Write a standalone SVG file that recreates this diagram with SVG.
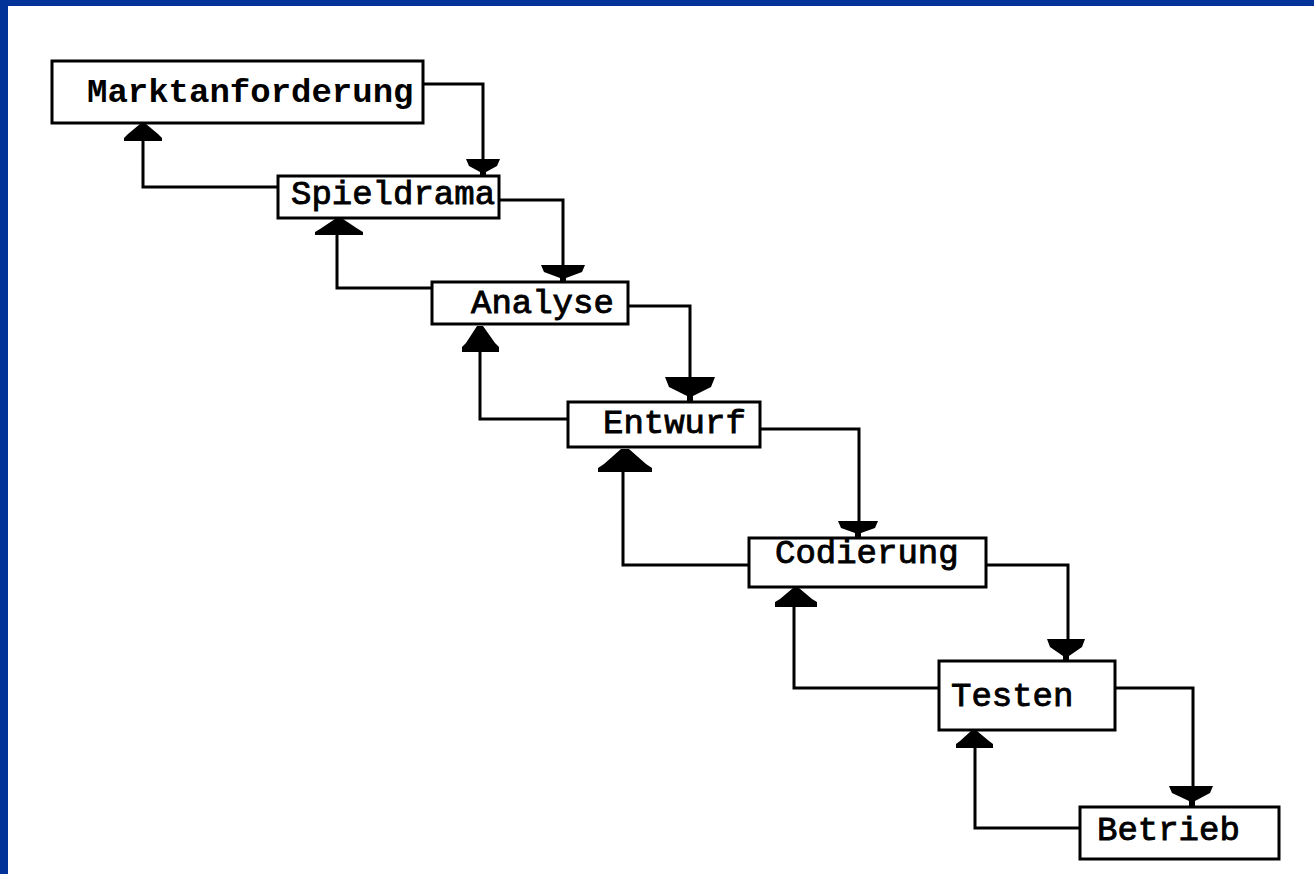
<svg xmlns="http://www.w3.org/2000/svg" width="1314" height="874" viewBox="0 0 1314 874">
<style>
.box{fill:#fff;stroke:#000;stroke-width:3}
.lbl{font-family:"Liberation Mono","DejaVu Sans Mono",monospace;font-size:34px;font-weight:normal;fill:#000;stroke:#000;stroke-width:0.9}
.lbl.b{font-weight:bold;stroke-width:0}
.con{fill:none;stroke:#000;stroke-width:3}
.ah{fill:#000;stroke:none}
.frame{fill:#013398}
</style>
<rect x="0" y="0" width="1314" height="874" fill="#fff"/>
<rect class="frame" x="0" y="0" width="1314" height="6"/>
<rect class="frame" x="0" y="0" width="8" height="874"/>

<g id="connectors">
  <path class="con" d="M423,84 H483 V162"/>
  <path class="con" d="M278,187 H143 V138"/>
  <path class="con" d="M499,200 H563 V268"/>
  <path class="con" d="M432,288 H337 V232"/>
  <path class="con" d="M628,306 H690 V380"/>
  <path class="con" d="M568,419 H480 V348"/>
  <path class="con" d="M760,429 H859 V524"/>
  <path class="con" d="M749,565 H623 V468"/>
  <path class="con" d="M986,565 H1068 V642"/>
  <path class="con" d="M939,688 H794 V604"/>
  <path class="con" d="M1115,688 H1193 V789"/>
  <path class="con" d="M1080,828 H975 V745"/>
  <!-- down arrowheads -->
  <polygon class="ah" points="466,159 500,159 497,166 486,172 486,176 480,176 480,172 469,166"/>
  <polygon class="ah" points="541,265 585,265 582,272 566,278 566,282 560,282 560,278 544,272"/>
  <polygon class="ah" points="665,377 715,377 711,387 693,396 693,402 687,402 687,396 669,387"/>
  <polygon class="ah" points="838,521 878,521 875,528 861,533 861,537 855,537 855,533 841,528"/>
  <polygon class="ah" points="1047,639 1085,639 1082,647 1069,656 1069,661 1063,661 1063,656 1050,647"/>
  <polygon class="ah" points="1169,786 1213,786 1210,793 1195,801 1195,807 1189,807 1189,801 1172,793"/>
  <!-- up arrowheads -->
  <polygon class="ah" points="140,124 146,124 158,134 162,138 162,141 124,141 124,138 128,134"/>
  <polygon class="ah" points="335,219 343,219 358,229 363,232 363,235 315,235 315,232 320,229"/>
  <polygon class="ah" points="477,326 483,326 495,343 499,347 499,352 462,352 462,347 466,343"/>
  <polygon class="ah" points="621,449 629,449 646,464 652,468 652,472 598,472 598,468 604,464"/>
  <polygon class="ah" points="793,588 799,588 812,599 817,602 817,607 775,607 775,602 780,599"/>
  <polygon class="ah" points="971,731 977,731 989,741 993,744 993,748 956,748 956,744 960,741"/>
</g>

<g id="n-markt"><rect class="box" x="52" y="61" width="371" height="62"/><text class="lbl b" x="87" y="102">Marktanforderung</text></g>
<g id="n-spiel"><rect class="box" x="278" y="176" width="221" height="42"/><text class="lbl" x="291" y="204">Spieldrama</text></g>
<g id="n-analyse"><rect class="box" x="432" y="282" width="196" height="42"/><text class="lbl" x="471" y="313">Analyse</text></g>
<g id="n-entwurf"><rect class="box" x="568" y="402" width="192" height="45"/><text class="lbl" x="603" y="433">Entwurf</text></g>
<g id="n-codierung"><rect class="box" x="749" y="538" width="237" height="49"/><text class="lbl" x="775" y="563">Codierung</text></g>
<g id="n-testen"><rect class="box" x="939" y="661" width="176" height="69"/><text class="lbl" x="951" y="706">Testen</text></g>
<g id="n-betrieb"><rect class="box" x="1080" y="807" width="199" height="52"/><text class="lbl" x="1097" y="840">Betrieb</text></g>
</svg>
